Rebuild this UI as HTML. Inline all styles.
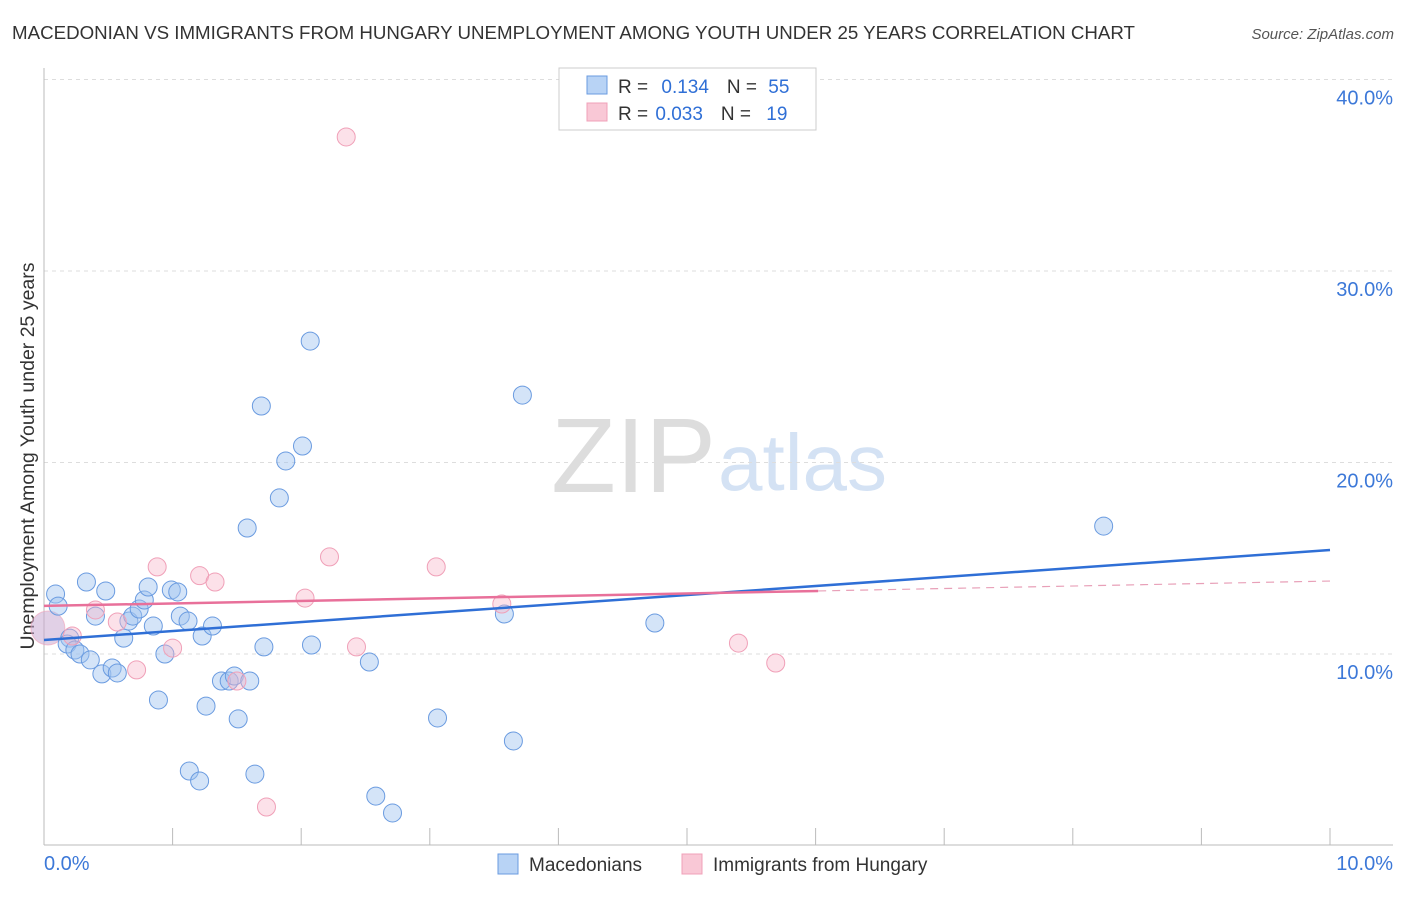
<!DOCTYPE html>
<html><head><meta charset="utf-8"><style>
body{margin:0;background:#fff;font-family:"Liberation Sans",sans-serif;}
svg text{font-family:"Liberation Sans",sans-serif;}
</style></head><body>
<svg id="c" width="1406" height="892">
<text x="12" y="39" font-size="18.5" fill="#333" textLength="1123" lengthAdjust="spacingAndGlyphs">MACEDONIAN VS IMMIGRANTS FROM HUNGARY UNEMPLOYMENT AMONG YOUTH UNDER 25 YEARS CORRELATION CHART</text>
<text x="1394" y="39" font-size="15" fill="#555" text-anchor="end" font-style="italic">Source: ZipAtlas.com</text>
<text x="716" y="492" font-size="106" fill="#ddd" text-anchor="end" font-family="Liberation Serif">ZIP</text>
<text x="718" y="490" font-size="80" fill="#d4e2f4">atlas</text>
<text transform="translate(34,456) rotate(-90)" font-size="19.5" fill="#333" text-anchor="middle">Unemployment Among Youth under 25 years</text>
<g id="grid"></g><g id="pts"></g><g id="lines"></g>
<g>
<rect x="559" y="68" width="257" height="62" fill="#fff" stroke="#ccc"/>
<rect x="587" y="76" width="20" height="18" fill="#b8d3f5" stroke="#6a9be0"/>
<rect x="587" y="103" width="20" height="18" fill="#f9c8d6" stroke="#f0a0b8"/>
<text x="618" y="93" font-size="19" fill="#333">R = <tspan fill="#2f6fd6" dx="8">0.134</tspan><tspan dx="18" fill="#333">N = </tspan><tspan fill="#2f6fd6" dx="6">55</tspan></text>
<text x="618" y="120" font-size="19" fill="#333">R = <tspan fill="#2f6fd6" dx="2">0.033</tspan><tspan dx="18" fill="#333">N = </tspan><tspan fill="#2f6fd6" dx="10">19</tspan></text>
</g>
<g>
<rect x="498" y="854" width="20" height="20" fill="#b8d3f5" stroke="#6a9be0"/>
<text x="529" y="871" font-size="19" fill="#333">Macedonians</text>
<rect x="682" y="854" width="20" height="20" fill="#f9c8d6" stroke="#f0a0b8"/>
<text x="713" y="871" font-size="19" fill="#333">Immigrants from Hungary</text>
</g>
</svg>
<script>
const blueX=[0.09,0.11,0.20,0.18,0.24,0.28,0.36,0.45,0.53,0.57,0.33,0.40,0.48,0.62,0.66,0.69,0.74,0.78,0.81,0.85,0.89,0.94,0.99,1.04,1.06,1.12,1.13,1.21,1.23,1.26,1.31,1.38,1.44,1.48,1.51,1.60,1.58,1.64,1.69,1.71,1.83,1.88,2.01,2.07,2.08,2.53,2.58,2.71,3.06,3.58,3.65,3.72,4.75,8.24];
const blueY=[13.13,12.50,10.83,10.52,10.21,10.00,9.69,8.96,9.27,9.01,13.76,11.98,13.29,10.83,11.72,11.98,12.35,12.82,13.50,11.46,7.60,10.00,13.34,13.24,11.98,11.72,3.89,3.37,10.94,7.28,11.46,8.59,8.59,8.85,6.61,8.59,16.58,3.73,22.95,10.37,18.15,20.08,20.86,26.34,10.47,9.58,2.58,1.70,6.66,12.09,5.46,23.52,11.62,16.68];
const pinkX=[0.22,0.40,0.57,0.72,0.88,1.00,1.21,1.33,1.50,1.73,2.03,2.22,2.35,2.43,3.05,3.56,5.40,5.69];
const pinkY=[10.94,12.30,11.67,9.17,14.55,10.31,14.09,13.76,8.59,2.01,12.92,15.07,37.00,10.37,14.55,12.61,10.57,9.53];
const bigX=[0.03]; const bigY=[11.36];
const yTicks=[10,20,30,40]; const yTickLabels=["10.0%","20.0%","30.0%","40.0%"];
const xTicks=[1,2,3,4,5,6,7,8,9,10];
const blueTrend=[10.73,15.43]; const pinkTrend=[12.51,13.81]; const pinkSolidEnd=6.02;
const sx=v=>44+v*128.6, sy=v=>845.5-v*19.15;
const NS="http://www.w3.org/2000/svg";
function mk(t,a,p){const e=document.createElementNS(NS,t);for(const k in a)e.setAttribute(k,a[k]);p.appendChild(e);return e;}
const g=document.getElementById('grid');
yTicks.forEach((t,i)=>{
 const l=mk('line',{x1:44,x2:1393,y1:sy(t),y2:sy(t),stroke:'#ddd','stroke-dasharray':'4,4'},g);
 
 
 const tx=mk('text',{x:1393,y:sy(t)+25,'font-size':20,fill:'#3c78d8','text-anchor':'end'},g);tx.textContent=yTickLabels[i];
 
 
});
mk('line',{x1:44,x2:44,y1:68,y2:845,stroke:'#bbb'},g);
mk('line',{x1:44,x2:1393,y1:845,y2:845,stroke:'#bbb'},g);
xTicks.forEach(t=>{const l=mk('line',{x1:sx(t),x2:sx(t),y1:828,y2:845,stroke:'#bbb'},g);
 
 });
let t0=mk('text',{x:44,y:870,'font-size':20,fill:'#3c78d8'},g);t0.textContent='0.0%';


let t1=mk('text',{x:1393,y:870,'font-size':20,fill:'#3c78d8','text-anchor':'end'},g);t1.textContent='10.0%';


const p=document.getElementById('pts');
bigX.forEach((x,i)=>{const c=mk('circle',{cx:sx(x),cy:sy(bigY[i]),r:17,fill:'rgba(200,170,210,0.55)',stroke:'rgba(240,160,184,0.6)'},p);
 
 });
blueX.forEach((x,i)=>{const c=mk('circle',{cx:sx(x),cy:sy(blueY[i]),r:9,fill:'rgba(160,196,240,0.45)',stroke:'#6a9be0','stroke-width':1},p);
 
 });
pinkX.forEach((x,i)=>{const c=mk('circle',{cx:sx(x),cy:sy(pinkY[i]),r:9,fill:'rgba(248,180,200,0.4)',stroke:'#f0a0b8','stroke-width':1},p);
 
 });
const L=document.getElementById('lines');
let b=mk('line',{x1:sx(0),y1:sy(blueTrend[0]),x2:sx(10),y2:sy(blueTrend[1]),stroke:'#2f6fd6','stroke-width':2.5},L);


const pe=pinkTrend[0]+(pinkTrend[1]-pinkTrend[0])*pinkSolidEnd/10;
let pk=mk('line',{x1:sx(0),y1:sy(pinkTrend[0]),x2:sx(pinkSolidEnd),y2:sy(pe),stroke:'#e8709a','stroke-width':2.5},L);


let pd=mk('line',{x1:sx(pinkSolidEnd),y1:sy(pe),x2:sx(10),y2:sy(pinkTrend[1]),stroke:'#e8a0b8','stroke-width':1.2,'stroke-dasharray':'8,6'},L);


</script>
</body></html>
